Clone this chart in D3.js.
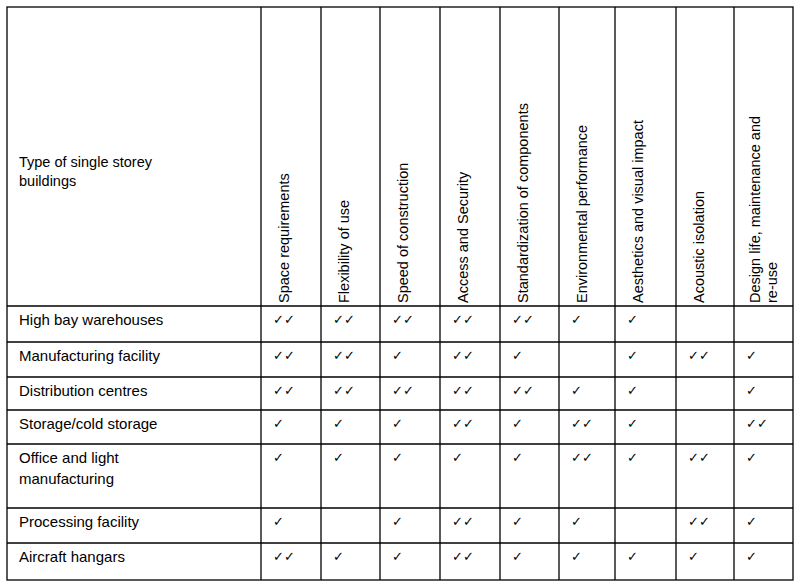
<!DOCTYPE html>
<html>
<head>
<meta charset="utf-8">
<script src="https://cdn.jsdelivr.net/npm/d3@7"></script>
<style>
body { margin: 0; background: #fff; }
text { font-family: "Liberation Sans", Arial, sans-serif; fill: #000; }
</style>
</head>
<body>
<svg id="table"></svg>
<script>
const criteria = [
	['Space  requirements'],
	['Flexibility of use'],
	['Speed of construction'],
	['Access and Security'],
	['Standardization of components'],
	['Environmental performance'],
	['Aesthetics and visual impact'],
	['Acoustic isolation'],
	['Design life, maintenance and', 're-use']
]
const buildings = [
	['High bay warehouses'],
	['Manufacturing facility'],
	['Distribution centres'],
	['Storage/cold storage'],
	['Office and light', 'manufacturing'],
	['Processing facility'],
	['Aircraft hangars']
]
// number of ticks per cell
const ticks = [
	[2, 2, 2, 2, 2, 1, 1, 0, 0],
	[2, 2, 1, 2, 1, 0, 1, 2, 1],
	[2, 2, 2, 2, 2, 1, 1, 0, 1],
	[1, 1, 1, 2, 1, 2, 1, 0, 2],
	[1, 1, 1, 1, 1, 2, 1, 2, 1],
	[1, 0, 1, 2, 1, 1, 0, 2, 1],
	[2, 1, 1, 2, 1, 1, 1, 1, 1]
]
const rowEdges = [306, 342, 377, 410, 444, 508, 543, 580]
const colEdges = [261, 321, 380, 440, 500, 559, 615, 676, 734, 793]

const width = 800
const height = 587
const tableLeft = 7
const tableTop = 7

const svg = d3.select('#table').attr('width', width).attr('height', height)

// grid
const g = svg.append('g').attr('stroke', '#000').attr('stroke-width', 1.3)
g.append('rect')
	.attr('x', tableLeft).attr('y', tableTop)
	.attr('width', colEdges[colEdges.length - 1] - tableLeft)
	.attr('height', rowEdges[rowEdges.length - 1] - tableTop)
	.attr('fill', 'none')
g.selectAll('.h')
	.data(rowEdges.slice(0, -1))
	.join('line')
	.attr('x1', tableLeft).attr('x2', colEdges[colEdges.length - 1])
	.attr('y1', d => d).attr('y2', d => d)
g.selectAll('.v')
	.data(colEdges.slice(0, -1))
	.join('line')
	.attr('x1', d => d).attr('x2', d => d)
	.attr('y1', tableTop).attr('y2', rowEdges[rowEdges.length - 1])

// header
svg.append('text')
	.attr('x', 19).attr('y', 167)
	.style('font-size', '14.5px')
	.selectAll('tspan')
	.data(['Type of single storey', 'buildings'])
	.join('tspan')
	.attr('x', 19)
	.attr('dy', (d, i) => (i ? 19 : 0))
	.text(d => d)

criteria.forEach((lines, c) => {
	const x0 = colEdges[c] + (lines.length > 1 ? 26 : 28)
	svg.append('text')
		.attr('transform', `translate(${x0},${rowEdges[0] - 3}) rotate(-90)`)
		.style('font-size', '14.5px')
		.selectAll('tspan')
		.data(lines)
		.join('tspan')
		.attr('x', 0)
		.attr('dy', (d, i) => (i ? 17 : 0))
		.text(d => d)
})

// rows
buildings.forEach((lines, r) => {
	svg.append('text')
		.attr('y', rowEdges[r] + 19)
		.style('font-size', '15px')
		.selectAll('tspan')
		.data(lines)
		.join('tspan')
		.attr('x', 19)
		.attr('dy', (d, i) => (i ? 21 : 0))
		.text(d => d)

	ticks[r].forEach((n, c) => {
		if (!n) return
		svg.append('text')
			.attr('x', colEdges[c] + 12)
			.attr('y', rowEdges[r] + 18)
			.style('font-family', '"DejaVu Sans", sans-serif')
			.style('font-size', '13px')
			.text(n === 2 ? '✓✓' : '✓')
	})
})
</script>
</body>
</html>
